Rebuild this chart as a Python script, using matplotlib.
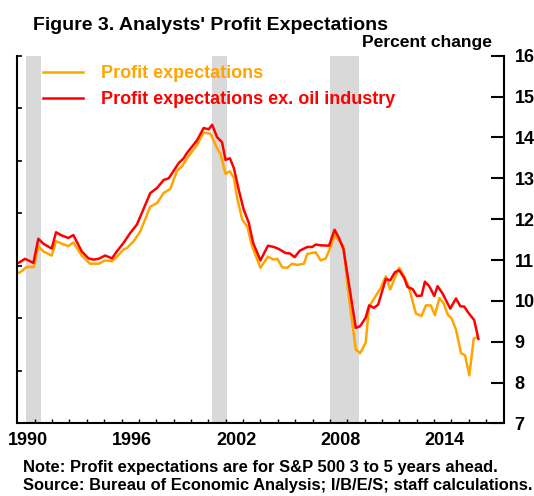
import numpy as np
import matplotlib
matplotlib.use('Agg')
import matplotlib.pyplot as plt

plt.rcParams['font.family'] = ['Liberation Sans', 'DejaVu Sans']
plt.rcParams['font.weight'] = 'bold'

# values (x in years, y in percent change)
orange_x = [1990.00, 1990.16, 1990.54, 1990.96, 1991.21, 1991.50, 1991.98, 1992.23, 1992.56, 1992.94,
            1993.23, 1993.71, 1994.19, 1994.68, 1995.06, 1995.45, 1995.73, 1996.12, 1996.31, 1996.70,
            1997.08, 1997.66, 1998.04, 1998.43, 1998.81, 1999.20, 1999.48, 1999.77, 2000.35, 2000.73,
            2001.12, 2001.50, 2001.70, 2001.99, 2002.24, 2002.47, 2002.66, 2002.95, 2003.24, 2003.52,
            2004.00, 2004.43, 2004.77, 2004.97, 2005.26, 2005.54, 2005.83, 2006.12, 2006.51, 2006.70,
            2007.18, 2007.47, 2007.76, 2008.04, 2008.27, 2008.78, 2009.04, 2009.49, 2009.74, 2010.06,
            2010.26, 2010.45, 2010.64, 2010.93, 2011.22, 2011.47, 2011.70, 2011.99, 2012.28, 2012.56,
            2012.95, 2013.28, 2013.53, 2013.81, 2014.05, 2014.30, 2014.55, 2014.78, 2015.01, 2015.26,
            2015.55, 2015.78, 2016.03, 2016.28, 2016.41]
orange_y = [10.68, 10.70, 10.83, 10.83, 11.34, 11.21, 11.11, 11.46, 11.40, 11.34,
            11.43, 11.11, 10.91, 10.91, 10.99, 10.97, 11.08, 11.26, 11.29, 11.46,
            11.70, 12.31, 12.39, 12.64, 12.74, 13.19, 13.29, 13.49, 13.82, 14.12,
            14.09, 13.74, 13.60, 13.11, 13.17, 13.01, 12.52, 11.99, 11.82, 11.34,
            10.81, 11.08, 11.01, 11.03, 10.82, 10.81, 10.91, 10.88, 10.91, 11.15,
            11.19, 10.99, 11.04, 11.32, 11.61, 11.34, 10.28, 8.81, 8.72, 8.98,
            9.87, 9.99, 10.12, 10.32, 10.60, 10.28, 10.52, 10.81, 10.60, 10.32,
            9.69, 9.63, 9.89, 9.89, 9.65, 10.07, 9.94, 9.67, 9.57, 9.30,
            8.72, 8.67, 8.18, 9.07, 9.10]
red_x = [1990.00, 1990.16, 1990.44, 1990.93, 1991.21, 1991.50, 1991.98, 1992.23, 1992.56, 1992.94,
         1993.23, 1993.71, 1994.10, 1994.39, 1994.68, 1995.06, 1995.45, 1995.73, 1996.12, 1996.50,
         1996.89, 1997.66, 1998.04, 1998.43, 1998.72, 1999.29, 1999.58, 1999.77, 2000.35, 2000.73,
         2001.02, 2001.22, 2001.50, 2001.79, 2001.99, 2002.24, 2002.47, 2002.75, 2003.04, 2003.33,
         2003.58, 2004.00, 2004.43, 2004.77, 2005.06, 2005.45, 2005.70, 2005.97, 2006.27, 2006.70,
         2006.99, 2007.18, 2007.47, 2007.95, 2008.27, 2008.52, 2008.78, 2009.49, 2009.74, 2010.06,
         2010.26, 2010.54, 2010.78, 2011.22, 2011.47, 2011.74, 2011.99, 2012.28, 2012.47, 2012.76,
         2013.01, 2013.28, 2013.47, 2013.72, 2014.01, 2014.20, 2014.49, 2014.68, 2014.93, 2015.26,
         2015.51, 2015.74, 2015.97, 2016.31, 2016.55]
red_y = [10.92, 10.95, 11.03, 10.93, 11.52, 11.40, 11.28, 11.68, 11.60, 11.54,
         11.61, 11.21, 11.04, 11.01, 11.03, 11.11, 11.04, 11.21, 11.42, 11.66,
         11.87, 12.64, 12.76, 12.96, 13.00, 13.37, 13.49, 13.62, 13.93, 14.23,
         14.20, 14.31, 14.01, 13.88, 13.45, 13.49, 13.25, 12.72, 12.23, 11.91,
         11.42, 10.99, 11.35, 11.32, 11.27, 11.17, 11.16, 11.07, 11.23, 11.32,
         11.32, 11.38, 11.36, 11.35, 11.74, 11.54, 11.27, 9.34, 9.38, 9.59,
         9.89, 9.83, 9.91, 10.54, 10.50, 10.70, 10.75, 10.56, 10.34, 10.29,
         10.12, 10.13, 10.47, 10.36, 10.12, 10.36, 10.18, 10.02, 9.81, 10.06,
         9.87, 9.86, 9.71, 9.53, 9.07]
recessions = [(1990.50, 1991.35), (2001.23, 2002.08), (2007.99, 2009.66)]
year_labels = [1990, 1996, 2002, 2008, 2014]
series_names = ['Profit expectations', 'Profit expectations ex. oil industry']
orange = '#FFA500'
red = '#FF0000'

fig = plt.figure(figsize=(5.34, 4.96), dpi=100)
ax = fig.add_axes([0.0324, 0.1462, 0.9106, 0.7415])
ax.set_xlim(1990, 2018)
ax.set_ylim(7, 16)

for start, end in recessions:
    ax.axvspan(start, end, color='#D9D9D9', lw=0, zorder=1)

ax.plot(orange_x, orange_y, color=orange, lw=1.8, label=series_names[0], zorder=3)
ax.plot(red_x, red_y, color=red, lw=1.8, label=series_names[1], zorder=4)

for side in ['left', 'right', 'bottom']:
    ax.spines[side].set_linewidth(1.5)
    ax.spines[side].set_zorder(5)
ax.spines['top'].set_visible(False)

# left axis: unlabelled ticks
ax.set_yticks(np.linspace(7, 16, 8))
ax.tick_params(axis='y', direction='in', length=3.5, width=1.2, labelleft=False)

# x axis: minor ticks each year, labels centred in the year
ax.set_xticks([y + 0.6 for y in year_labels])
ax.set_xticklabels([str(y) for y in year_labels])
ax.set_xticks(np.arange(1991, 2018), minor=True)
ax.tick_params(axis='x', which='major', length=0, pad=6, labelsize=13)
ax.tick_params(axis='x', which='minor', direction='in', length=3, width=1)

ax2 = ax.twinx()
ax2.set_ylim(7, 16)
ax2.set_yticks(range(7, 17))
ax2.tick_params(axis='y', direction='in', length=9.5, width=1.5, pad=8, labelsize=13)
for side in ['left', 'right', 'bottom', 'top']:
    ax2.spines[side].set_visible(False)

leg = ax.legend(loc='upper left', bbox_to_anchor=(0.02, 1.018), frameon=False,
                prop={'size': 13, 'weight': 'bold'}, handlelength=2.2,
                handletextpad=1.0, labelspacing=0.5)
for text, col in zip(leg.get_texts(), [orange, red]):
    text.set_color(col)

fig.text(0.062, 0.9395, "Figure 3. Analysts' Profit Expectations", fontsize=14,
         ha='left', va='baseline')
fig.text(0.921, 0.905, 'Percent change', fontsize=12.6, ha='right', va='baseline')
fig.text(0.043, 0.049, 'Note: Profit expectations are for S&P 500 3 to 5 years ahead.',
         fontsize=11.9, ha='left', va='baseline')
fig.text(0.043, 0.0121, 'Source: Bureau of Economic Analysis; I/B/E/S; staff calculations.',
         fontsize=11.9, ha='left', va='baseline')

fig.savefig('out.png', dpi=100)
